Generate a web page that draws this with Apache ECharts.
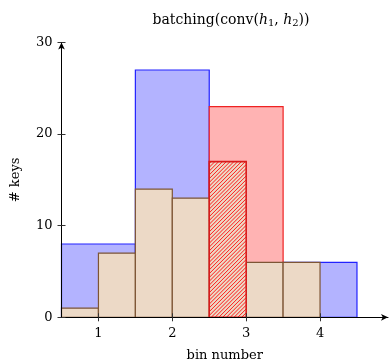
<!DOCTYPE html>
<html>
<head>
<meta charset="utf-8">
<script src="https://cdn.jsdelivr.net/npm/echarts@6/dist/echarts.min.js"></script>
<style>html,body{margin:0;padding:0;background:#fff}#c{width:392px;height:364px}</style>
</head>
<body>
<div id="c"></div>
<script>
// ---- data ----
const blueCenters = [1, 2, 4];
const blueWidths = [1, 1, 1];
const blueValues = [8, 27, 6];
const redCenters = [3];
const redWidths = [1];
const redValues = [23];
const fineCenters = [0.75, 1.25, 1.75, 2.25, 3.25, 3.75];
const fineWidths = [0.5, 0.5, 0.5, 0.5, 0.5, 0.5];
const fineValues = [1, 7, 14, 13, 6, 6];
const hatchCenters = [2.75];
const hatchWidths = [0.5];
const hatchValues = [17];
const xTicks = [1, 2, 3, 4];

function zip(c, w, v) { return c.map((x, i) => [x, w[i], v[i]]); }

function rectOf(api) {
  const c = api.value(0), w = api.value(1), v = api.value(2);
  const p0 = api.coord([c - w / 2, v]);
  const p1 = api.coord([c + w / 2, 0]);
  return { x: p0[0], y: p0[1], width: p1[0] - p0[0], height: p1[1] - p0[1] };
}

function makeRender(fill, stroke, lw) {
  return function (params, api) {
    return { type: 'rect', shape: rectOf(api), style: { fill: fill, stroke: stroke, lineWidth: lw } };
  };
}

// hatched bar: tan fill, red north-east lines clipped to the bar, red border
function hatchRender(params, api) {
  const r = rectOf(api);
  const x0 = r.x, x1 = r.x + r.width, y0 = r.y, y1 = r.y + r.height;
  const step = 3.8;
  const children = [{ type: 'rect', shape: r, style: { fill: '#ecd9c6', stroke: null } }];
  for (let c = x0 + y0 + step / 2; c < x1 + y1; c += step) {
    const xs = Math.max(x0, c - y1), xe = Math.min(x1, c - y0);
    if (xe <= xs) continue;
    children.push({ type: 'line', shape: { x1: xs, y1: c - xs, x2: xe, y2: c - xe },
      style: { stroke: '#ff1a1a', lineWidth: 1 } });
  }
  children.push({ type: 'rect', shape: r, style: { fill: null, stroke: '#d81a1a', lineWidth: 1.6 } });
  return { type: 'group', children: children };
}

const serif = '"DejaVu Serif", "Liberation Serif", serif';
const chart = echarts.init(document.getElementById('c'), null, { renderer: 'canvas' });
const axisCommon = {
  type: 'value',
  splitLine: { show: false },
  z: 5
};
chart.setOption({
  animation: false,
  title: {
    text: 'batching(conv({i|h}{s|1}, {i|h}{s|2}))',
    left: 226,
    top: 7,
    textAlign: 'center',
    textStyle: {
      fontFamily: serif, fontSize: 14, fontWeight: 'normal', color: '#000',
      rich: {
        i: { fontFamily: serif, fontSize: 14, fontStyle: 'italic', color: '#000' },
        s: { fontFamily: serif, fontSize: 10, color: '#000', verticalAlign: 'bottom', padding: [6, 0, 0, 0] }
      }
    }
  },
  grid: { left: 61.5, top: 42.5, bottom: 46.7, right: 4, containLabel: false, outerBoundsMode: 'none' },
  xAxis: [{
    ...axisCommon,
    min: 0.5, max: 4.92,
    axisLine: { show: true, lineStyle: { color: '#000', width: 1 }, symbol: ['none', 'arrow'], symbolSize: [5, 7] },
    axisTick: { show: true, length: 4, customValues: xTicks, lineStyle: { color: '#333' } },
    axisLabel: { customValues: xTicks, margin: 10, fontFamily: serif, fontSize: 13, color: '#000' },
    name: 'bin number', nameLocation: 'middle', nameGap: 32,
    nameTextStyle: { fontFamily: serif, fontSize: 13, color: '#000' }
  }, {
    ...axisCommon,
    position: 'bottom', offset: 0,
    min: 0.5, max: 4.92,
    axisLine: { show: false },
    axisTick: { show: true, inside: true, length: 4, customValues: xTicks, lineStyle: { color: '#333' } },
    axisLabel: { show: false }
  }],
  yAxis: [{
    ...axisCommon,
    min: 0, max: 30, interval: 10,
    axisLine: { show: true, lineStyle: { color: '#000', width: 1 }, symbol: ['none', 'arrow'], symbolSize: [5, 7] },
    axisTick: { show: true, length: 4, lineStyle: { color: '#333' } },
    axisLabel: { margin: 9, fontFamily: serif, fontSize: 13, color: '#000' },
    name: '# keys', nameLocation: 'middle', nameGap: 39, nameRotate: 90,
    nameTextStyle: { fontFamily: serif, fontSize: 13, color: '#000' }
  }, {
    ...axisCommon,
    position: 'left', offset: 0,
    min: 0, max: 30, interval: 10,
    axisLine: { show: false },
    axisTick: { show: true, inside: true, length: 4, lineStyle: { color: '#333' } },
    axisLabel: { show: false }
  }],
  series: [
    { type: 'custom', z: 1, xAxisIndex: 0, yAxisIndex: 0, data: zip(blueCenters, blueWidths, blueValues),
      renderItem: makeRender('#b3b3ff', '#2222ff', 1.2) },
    { type: 'custom', z: 1, xAxisIndex: 0, yAxisIndex: 0, data: zip(redCenters, redWidths, redValues),
      renderItem: makeRender('#ffb3b3', '#ee2222', 1.2) },
    { type: 'custom', z: 2, xAxisIndex: 0, yAxisIndex: 0, data: zip(fineCenters, fineWidths, fineValues),
      renderItem: makeRender('#ecd9c6', '#7d5535', 1.2) },
    { type: 'custom', z: 3, xAxisIndex: 0, yAxisIndex: 0, data: zip(hatchCenters, hatchWidths, hatchValues),
      renderItem: hatchRender }
  ]
});
</script>
</body>
</html>
